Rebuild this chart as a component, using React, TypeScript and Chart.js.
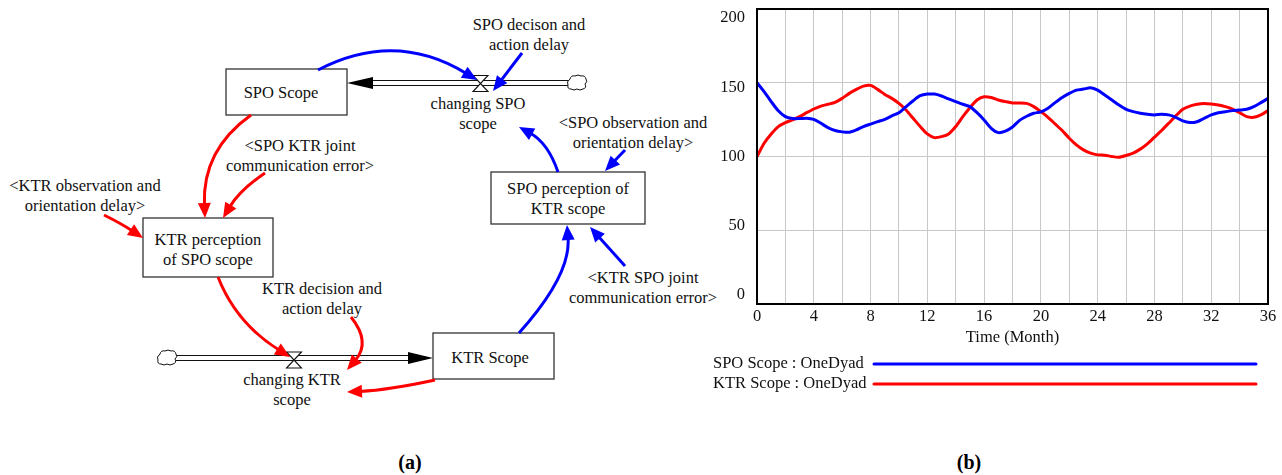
import React, { useEffect, useRef } from "react";
import { Chart, registerables } from "chart.js";

Chart.register(...registerables);

// Simulation output, one value every half month
const times = [
  0, 0.5, 1, 1.5, 2, 2.5, 3, 3.5, 4, 4.5, 5, 5.5, 6, 6.5, 7, 7.5, 8, 8.5, 9, 9.5,
  10, 10.5, 11, 11.5, 12, 12.5, 13, 13.5, 14, 14.5, 15, 15.5, 16, 16.5, 17, 17.5,
  18, 18.5, 19, 19.5, 20, 20.5, 21, 21.5, 22, 22.5, 23, 23.5, 24, 24.5, 25, 25.5,
  26, 26.5, 27, 27.5, 28, 28.5, 29, 29.5, 30, 30.5, 31, 31.5, 32, 32.5, 33, 33.5,
  34, 34.5, 35, 35.5, 36,
];

const spoScope = [
  150, 144, 137.2, 131, 127, 125.7, 125.7, 126, 125.2, 122.5, 119.6, 117.6, 116.7,
  116.4, 118, 120.3, 122, 123.6, 125.2, 127.5, 129.7, 133.8, 137.8, 141.2, 142.3,
  142.3, 141, 139, 137.2, 135.4, 133.8, 129.7, 124.8, 119.1, 116.2, 117.2, 120,
  124.5, 127.3, 129.3, 130.3, 132.7, 136.5, 140, 142.8, 145, 145.7, 146.6, 145,
  141.7, 138.3, 134.9, 132, 130.4, 129.3, 128.6, 128.2, 128.6, 128.2, 126.6, 124.1,
  123, 123.6, 125.9, 128.2, 129.7, 130.4, 131.1, 131.5, 132, 133.8, 136.5, 139.4,
];

const ktrScope = [
  100, 109, 115.3, 120.3, 123, 124.8, 127, 129.7, 132.2, 134.2, 135.4, 136.7, 139.4,
  142.8, 145.5, 147.7, 148.2, 145.5, 142.1, 139.4, 136, 131.5, 125.9, 120.3, 115.3,
  112.8, 113.5, 115.3, 120.3, 127, 133.1, 138.3, 140.5, 140, 138.3, 137.2, 136.3,
  136.3, 136, 133.8, 130.4, 126.6, 122.1, 117.6, 112.4, 107.9, 104.5, 102.3, 101.1,
  100.9, 100, 99.5, 100.7, 102.3, 105, 108.6, 113.1, 117.6, 122.5, 127.5, 132, 134.2,
  135.4, 136, 135.6, 134.9, 133.8, 132.2, 129.7, 127, 126.6, 128.2, 131.1,
];

const yTicks = [0, 50, 100, 150, 200];
const seriesLabels = ["SPO Scope : OneDyad", "KTR Scope : OneDyad"];
const seriesColors = ["#0000ff", "#ff0000"];

const SERIF = "'Liberation Serif', 'Times New Roman', serif";
const FONT_SIZE = 16.5;

// Frame, spread-out value labels and the long-line legend
const vensimPlugin = {
  id: "vensimDecor",
  afterDraw(chart: any) {
    const { ctx, chartArea } = chart;
    const y = chart.scales.y;
    ctx.save();
    ctx.strokeStyle = "#000";
    ctx.lineWidth = 2;
    ctx.strokeRect(
      chartArea.left,
      chartArea.top,
      chartArea.right - chartArea.left,
      chartArea.bottom - chartArea.top
    );
    ctx.font = `${FONT_SIZE}px ${SERIF}`;
    ctx.fillStyle = "#111";
    ctx.textAlign = "right";
    ctx.textBaseline = "middle";
    const max = y.max;
    yTicks.forEach((v) => {
      const py = y.getPixelForValue(v) + 9 * (1 - (2 * (max - v)) / max);
      ctx.fillText(String(v), chartArea.left - 12, py);
    });
    ctx.textAlign = "left";
    chart.data.datasets.forEach((ds: any, i: number) => {
      const ly = 364 + i * 20;
      ctx.fillStyle = "#111";
      ctx.fillText(ds.label, 13, ly);
      ctx.strokeStyle = ds.borderColor;
      ctx.lineWidth = 3;
      ctx.lineCap = "round";
      ctx.beginPath();
      ctx.moveTo(174, ly);
      ctx.lineTo(556, ly);
      ctx.stroke();
    });
    ctx.restore();
  },
};

function ScopeChart() {
  const ref = useRef<HTMLCanvasElement | null>(null);
  useEffect(() => {
    if (!ref.current) return;
    const series = [spoScope, ktrScope];
    const chart = new Chart(ref.current, {
      type: "line",
      data: {
        datasets: series.map((vals, i) => ({
          label: seriesLabels[i],
          data: times.map((t, k) => ({ x: t, y: vals[k] })),
          borderColor: seriesColors[i],
          borderWidth: 3,
          pointRadius: 0,
          tension: 0.25,
          fill: false,
        })),
      },
      options: {
        responsive: false,
        animation: false,
        layout: { padding: { top: 9, right: 14, left: 0, bottom: 0 } },
        plugins: { legend: { display: false }, tooltip: { enabled: false } },
        scales: {
          x: {
            type: "linear",
            min: 0,
            max: 36,
            afterFit: (s: any) => {
              s.height = 96;
            },
            ticks: {
              stepSize: 2,
              autoSkip: false,
              maxRotation: 0,
              padding: 3,
              color: "#111",
              font: { family: SERIF, size: FONT_SIZE },
              callback: (v: any) => (Number(v) % 4 === 0 ? String(v) : ""),
            },
            grid: { color: "#c8c8c8", lineWidth: 1, drawTicks: false },
            border: { display: false },
            title: {
              display: true,
              text: "Time (Month)",
              color: "#111",
              font: { family: SERIF, size: FONT_SIZE },
              padding: { top: 0, bottom: 52 },
            },
          },
          y: {
            min: 0,
            max: 200,
            afterFit: (s: any) => {
              s.width = 57;
            },
            ticks: { stepSize: 50, display: false },
            grid: { color: "#c8c8c8", lineWidth: 1, drawTicks: false },
            border: { display: false },
          },
        },
      },
      plugins: [vensimPlugin],
    } as any);
    return () => chart.destroy();
  }, []);
  return (
    <canvas
      ref={ref}
      width={582}
      height={400}
      style={{ width: 582, height: 400, display: "block" }}
    />
  );
}

type Pt = [number, number];

// Curved influence arrow: quadratic path with a filled head at the end
function Arrow({ from, to, ctrl, color }: { from: Pt; to: Pt; ctrl?: Pt; color: string }) {
  const c: Pt = ctrl || [(from[0] + to[0]) / 2, (from[1] + to[1]) / 2];
  const dx = to[0] - c[0];
  const dy = to[1] - c[1];
  const len = Math.hypot(dx, dy) || 1;
  const ux = dx / len;
  const uy = dy / len;
  const headLen = 15;
  const headW = 6.5;
  const bx = to[0] - ux * headLen;
  const by = to[1] - uy * headLen;
  const ex = to[0] - ux * (headLen - 2);
  const ey = to[1] - uy * (headLen - 2);
  const head = `${to[0]},${to[1]} ${bx - uy * headW},${by + ux * headW} ${bx + uy * headW},${by - ux * headW}`;
  return (
    <g>
      <path
        d={`M${from[0]},${from[1]} Q${c[0]},${c[1]} ${ex},${ey}`}
        fill="none"
        stroke={color}
        strokeWidth={3}
      />
      <polygon points={head} fill={color} />
    </g>
  );
}

function Valve({ cx, cy }: { cx: number; cy: number }) {
  const w = 7.5;
  const h = 8;
  return (
    <path
      d={`M${cx - w},${cy - h} H${cx + w} L${cx - w},${cy + h} H${cx + w} Z`}
      fill="#fff"
      stroke="#111"
      strokeWidth={1.1}
      strokeLinejoin="miter"
    />
  );
}

function Cloud({ x, y }: { x: number; y: number }) {
  const d =
    `M${x + 3},${y + 4} q1,-4 5,-3 q3,-2 6,0 q4,-1 5,3 q2,3 -1,5 q2,4 -2,5 ` +
    `q-3,2 -6,0 q-3,2 -6,0 q-4,0 -3,-4 q-2,-3 2,-6 Z`;
  return <path d={d} fill="#fff" stroke="#111" strokeWidth={1} />;
}

function Pipe({ x1, x2, y }: { x1: number; x2: number; y: number }) {
  return (
    <g stroke="#111" strokeWidth={1.1}>
      <line x1={x1} y1={y - 2.5} x2={x2} y2={y - 2.5} />
      <line x1={x1} y1={y + 2.5} x2={x2} y2={y + 2.5} />
    </g>
  );
}

function Label({ x, y, lines }: { x: number; y: number; lines: string[] }) {
  return (
    <text
      x={x}
      y={y}
      textAnchor="middle"
      fontFamily={SERIF}
      fontSize={FONT_SIZE}
      fill="#111"
    >
      {lines.map((l, i) => (
        <tspan key={i} x={x} dy={i === 0 ? 0 : 20}>
          {l}
        </tspan>
      ))}
    </text>
  );
}

function Box({ x, y, w, h }: { x: number; y: number; w: number; h: number }) {
  return <rect x={x} y={y} width={w} height={h} fill="#fff" stroke="#333" strokeWidth={1.3} />;
}

const BLUE = "#0000ff";
const RED = "#ff0000";

function StockFlowDiagram() {
  return (
    <svg width={720} height={430} style={{ position: "absolute", left: 0, top: 0 }}>
      {/* SPO flow */}
      <Pipe x1={370} x2={570} y={83} />
      <polygon points="347,83 373,77 373,89" fill="#000" />
      <Valve cx={480.5} cy={83.5} />
      <Cloud x={567} y={75} />

      {/* KTR flow */}
      <Pipe x1={176} x2={410} y={358} />
      <polygon points="433,358 408,352 408,364" fill="#000" />
      <Valve cx={294} cy={360} />
      <Cloud x={157} y={350} />

      <Box x={226} y={69} w={121} h={46} />
      <Box x={491} y={172} w={154} h={52} />
      <Box x={143} y={218} w={130} h={59} />
      <Box x={433} y={333} w={121} h={46} />

      <Label x={281} y={98} lines={["SPO Scope"]} />
      <Label x={568} y={194} lines={["SPO perception of", "KTR scope"]} />
      <Label x={208} y={245} lines={["KTR perception", "of SPO scope"]} />
      <Label x={490} y={363} lines={["KTR Scope"]} />

      <Label x={478} y={109} lines={["changing SPO", "scope"]} />
      <Label x={529} y={30} lines={["SPO decison and", "action delay"]} />
      <Label x={633} y={128} lines={["<SPO observation and", "orientation delay>"]} />
      <Label x={643} y={283} lines={["<KTR SPO joint", "communication error>"]} />
      <Label x={300} y={151} lines={["<SPO KTR joint", "communication error>"]} />
      <Label x={85} y={191} lines={["<KTR observation and", "orientation delay>"]} />
      <Label x={292} y={385} lines={["changing KTR", "scope"]} />
      <Label x={322} y={294} lines={["KTR decision and", "action delay"]} />

      {/* influence links */}
      <Arrow from={[318, 70]} ctrl={[395, 30]} to={[477, 80]} color={BLUE} />
      <Arrow from={[522, 53]} to={[493, 91]} color={BLUE} />
      <Arrow from={[558, 172]} ctrl={[548, 143]} to={[519, 127]} color={BLUE} />
      <Arrow from={[625, 150]} to={[605, 171]} color={BLUE} />
      <Arrow from={[519, 333]} ctrl={[571, 275]} to={[567, 225]} color={BLUE} />
      <Arrow from={[625, 266]} to={[590, 227]} color={BLUE} />

      <Arrow from={[251, 115]} ctrl={[202, 150]} to={[205, 218]} color={RED} />
      <Arrow from={[265, 173]} ctrl={[240, 190]} to={[223, 218]} color={RED} />
      <Arrow from={[104, 215]} ctrl={[122, 224]} to={[143, 238]} color={RED} />
      <Arrow from={[218, 277]} ctrl={[236, 323]} to={[290, 357]} color={RED} />
      <Arrow from={[351, 317]} ctrl={[371, 342]} to={[347, 370]} color={RED} />
      <Arrow from={[435, 380]} ctrl={[389, 390]} to={[347, 392]} color={RED} />
    </svg>
  );
}

export default function App() {
  return (
    <div
      style={{
        position: "absolute",
        left: 0,
        top: 0,
        width: 1282,
        height: 475,
        background: "#fff",
        overflow: "hidden",
      }}
    >
      <StockFlowDiagram />
      <div style={{ position: "absolute", left: 700, top: 0, width: 582, height: 400 }}>
        <ScopeChart />
      </div>
      <div
        style={{
          position: "absolute",
          left: 360,
          top: 449,
          width: 100,
          textAlign: "center",
          fontFamily: SERIF,
          fontWeight: "bold",
          fontSize: 20,
          lineHeight: "26px",
        }}
      >
        (a)
      </div>
      <div
        style={{
          position: "absolute",
          left: 919,
          top: 449,
          width: 100,
          textAlign: "center",
          fontFamily: SERIF,
          fontWeight: "bold",
          fontSize: 20,
          lineHeight: "26px",
        }}
      >
        (b)
      </div>
    </div>
  );
}
